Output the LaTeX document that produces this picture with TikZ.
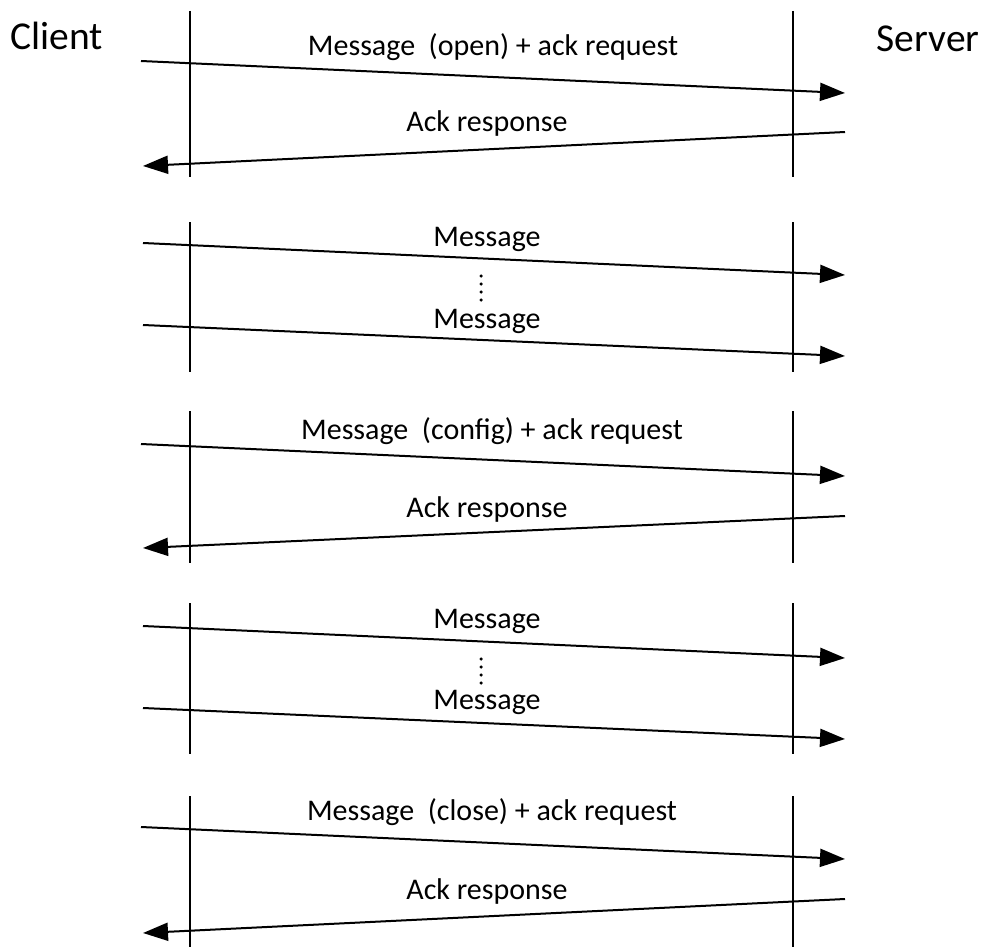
\documentclass[tikz,border=0pt]{standalone}
\usepackage{fontspec}
\setmainfont{Carlito}
\usetikzlibrary{arrows.meta}
\tikzset{
  life/.style={line width=2pt},
  msg/.style={line width=2pt,-{Triangle[length=25pt,width=18pt]}},
  lbl/.style={font=\fontsize{30}{34}\selectfont,inner sep=0pt,anchor=center},
  actor/.style={font=\fontsize{39.5}{44}\selectfont,inner sep=0pt,anchor=center},
  dotc/.style={fill=black,draw=none,circle,inner sep=0pt,minimum size=3.5pt}
}
\begin{document}
\begin{tikzpicture}[x=1pt,y=-1pt]
\useasboundingbox (0,0) rectangle (986,947);
\node[actor] (client) at (57,36) {Client};
\node[actor] (server) at (928,39) {Server};
% ---- group 1
\coordinate (l1a) at (190,11); \coordinate (l1b) at (190,177);
\coordinate (r1a) at (793,11); \coordinate (r1b) at (793,177);
\draw[life] (l1a) -- (l1b); \draw[life] (r1a) -- (r1b);
\coordinate (a1s) at (141,61); \coordinate (a1e) at (845,93);
\coordinate (a2s) at (845,132); \coordinate (a2e) at (143,166);
\draw[msg] (a1s) -- (a1e);
\draw[msg] (a2s) -- (a2e);
\node[lbl] (t1) at (493,47) {Message\ \ (open) + ack request};
\node[lbl] (t2) at (487,124) {Ack response};
% ---- group 2
\coordinate (l2a) at (190,222); \coordinate (l2b) at (190,372);
\coordinate (r2a) at (793,222); \coordinate (r2b) at (793,372);
\draw[life] (l2a) -- (l2b); \draw[life] (r2a) -- (r2b);
\coordinate (b1s) at (143,243); \coordinate (b1e) at (845,275);
\coordinate (b2s) at (143,325); \coordinate (b2e) at (845,356);
\draw[msg] (b1s) -- (b1e);
\draw[msg] (b2s) -- (b2e);
\node[lbl] (t3) at (487,239) {Message};
\node[lbl] (t4) at (487,321) {Message};
\foreach \k in {0,1,2,3} \node[dotc] (d2\k) at (481,276+8*\k) {};
% ---- group 3
\coordinate (l3a) at (190,411); \coordinate (l3b) at (190,563);
\coordinate (r3a) at (793,411); \coordinate (r3b) at (793,563);
\draw[life] (l3a) -- (l3b); \draw[life] (r3a) -- (r3b);
\coordinate (c1s) at (141,444); \coordinate (c1e) at (845,476);
\coordinate (c2s) at (845,516); \coordinate (c2e) at (143,548);
\draw[msg] (c1s) -- (c1e);
\draw[msg] (c2s) -- (c2e);
\node[lbl] (t5) at (492,431) {Message\ \ (config) + ack request};
\node[lbl] (t6) at (487,509) {Ack response};
% ---- group 4
\coordinate (l4a) at (190,603); \coordinate (l4b) at (190,754);
\coordinate (r4a) at (793,603); \coordinate (r4b) at (793,754);
\draw[life] (l4a) -- (l4b); \draw[life] (r4a) -- (r4b);
\coordinate (e1s) at (143,626); \coordinate (e1e) at (845,658);
\coordinate (e2s) at (143,708); \coordinate (e2e) at (845,739);
\draw[msg] (e1s) -- (e1e);
\draw[msg] (e2s) -- (e2e);
\node[lbl] (t7) at (487,621) {Message};
\node[lbl] (t8) at (487,702) {Message};
\foreach \k in {0,1,2,3} \node[dotc] (d4\k) at (481,659+8*\k) {};
% ---- group 5
\coordinate (l5a) at (190,796); \coordinate (l5b) at (190,947);
\coordinate (r5a) at (793,796); \coordinate (r5b) at (793,947);
\draw[life] (l5a) -- (l5b); \draw[life] (r5a) -- (r5b);
\coordinate (f1s) at (141,827); \coordinate (f1e) at (845,859);
\coordinate (f2s) at (845,899); \coordinate (f2e) at (143,933);
\draw[msg] (f1s) -- (f1e);
\draw[msg] (f2s) -- (f2e);
\node[lbl] (t9) at (492,812) {Message\ \ (close) + ack request};
\node[lbl] (t10) at (487,891) {Ack response};
\end{tikzpicture}
\end{document}
